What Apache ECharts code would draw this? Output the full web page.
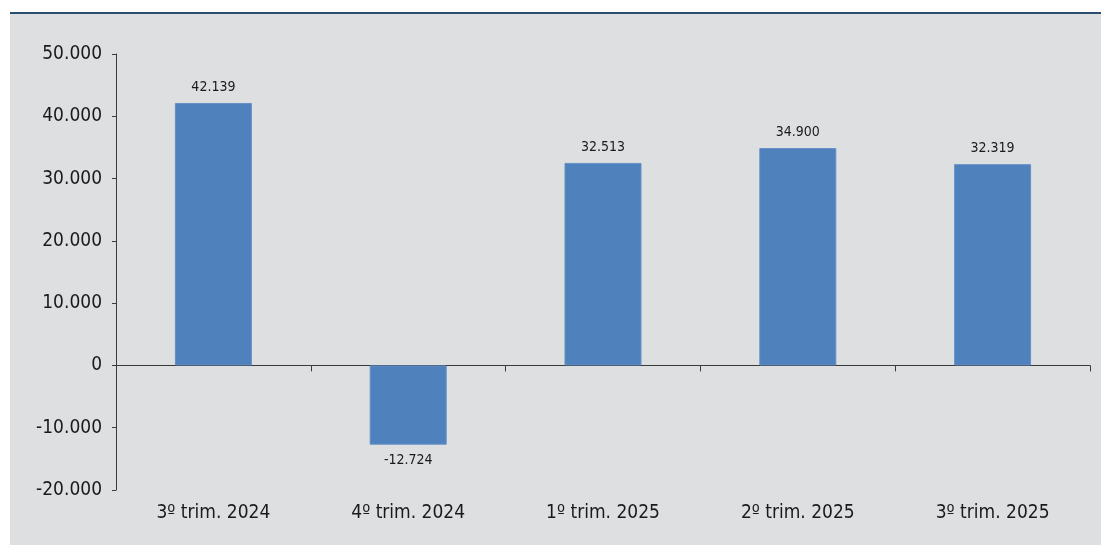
<!DOCTYPE html>
<html>
<head>
<meta charset="utf-8">
<script src="https://cdn.jsdelivr.net/npm/echarts@6/dist/echarts.min.js"></script>
<style>
html,body{margin:0;padding:0;background:#ffffff;}
#chart{width:1101px;height:545px;}
</style>
</head>
<body>
<div id="chart"></div>
<script>
const categories = ['3º trim. 2024', '4º trim. 2024', '1º trim. 2025', '2º trim. 2025', '3º trim. 2025'];
const values = [42139, -12724, 32513, 34900, 32319];
const yTicks = { min: -20000, max: 50000, interval: 10000 };

const FONT = "'Liberation Sans Narrow', 'DejaVu Sans Condensed', 'Roboto', sans-serif";
function fmt(v) {
  const s = Math.abs(v).toString().replace(/\B(?=(\d{3})+(?!\d))/g, '.');
  return (v < 0 ? '-' : '') + s;
}

const chart = echarts.init(document.getElementById('chart'), null, { renderer: 'canvas' });
chart.setOption({
  backgroundColor: '#ffffff',
  animation: false,
  graphic: [
    { type: 'rect', silent: true, z: -10, shape: { x: 10, y: 12, width: 1091, height: 533 }, style: { fill: '#dedfe1' } },
    { type: 'rect', silent: true, z: -9, shape: { x: 10, y: 12, width: 1091, height: 2 }, style: { fill: '#2b4d70' } }
  ],
  grid: { left: 116, right: 11, top: 54, bottom: 55, containLabel: false },
  xAxis: [
    {
      type: 'category', data: categories, position: 'bottom',
      axisLine: { onZero: true, lineStyle: { color: '#3a3a3a', width: 1 } },
      axisTick: { show: true, length: 6, alignWithLabel: false, lineStyle: { color: '#3a3a3a' } },
      axisLabel: { show: false }
    },
    {
      type: 'category', data: categories, position: 'bottom',
      axisLine: { show: false, onZero: false }, axisTick: { show: false },
      axisLabel: { show: true, margin: 14, color: '#1a1a1a', fontSize: 19, fontFamily: FONT }
    }
  ],
  yAxis: {
    type: 'value', min: yTicks.min, max: yTicks.max, interval: yTicks.interval,
    splitLine: { show: false },
    axisLine: { show: true, lineStyle: { color: '#3a3a3a', width: 1 } },
    axisTick: { show: true, length: 4, lineStyle: { color: '#3a3a3a' } },
    axisLabel: { margin: 14, color: '#1a1a1a', fontSize: 19, fontFamily: FONT, formatter: fmt }
  },
  series: [{
    type: 'bar', xAxisIndex: 0, barWidth: 77,
    itemStyle: { color: '#4f81bd', borderColor: '#6590c6', borderWidth: 1 },
    label: { show: true, position: 'top', distance: 9, color: '#1a1a1a', fontSize: 14, fontFamily: FONT, formatter: p => fmt(p.value) },
    data: values.map(v => v < 0 ? { value: v, label: { position: 'bottom' } } : { value: v })
  }]
});
</script>
</body>
</html>
